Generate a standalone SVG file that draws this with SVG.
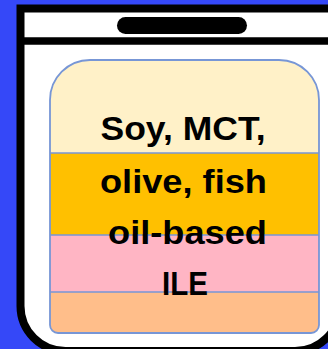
<svg xmlns="http://www.w3.org/2000/svg" width="328" height="349" viewBox="0 0 328 349">
<style>
.bag{fill:#ffffff;stroke:#000000;stroke-width:8}
.band{stroke:#7796d6;stroke-width:1.5}
.lbl{font-family:"Liberation Sans","Open Sans",sans-serif;font-weight:bold;font-size:33px;fill:#000000;text-anchor:middle}
</style>
<rect x="0" y="0" width="328" height="349" fill="#3548f8"/>
<g id="bag">
<path class="bag" d="M20.5 8.5 H340 V306 A45 45 0 0 1 295 351 H65.5 A45 45 0 0 1 20.5 306 Z"/>
<line x1="20.5" y1="41" x2="340" y2="41" stroke="#000" stroke-width="7.5"/>
<rect x="117" y="17" width="130" height="17" rx="8.5" fill="#000"/>
</g>
<g id="container">
<clipPath id="c"><path d="M90 60 H279 A40 40 0 0 1 319 100 V325 A8 8 0 0 1 311 333 H58 A8 8 0 0 1 50 325 V100 A40 40 0 0 1 90 60 Z"/></clipPath>
<g clip-path="url(#c)">
<rect x="50" y="60" width="269" height="93" fill="#fff1c8"/>
<rect x="50" y="153" width="269" height="82" fill="#ffc000"/>
<rect x="50" y="235" width="269" height="57" fill="#ffb5c4"/>
<rect x="50" y="292" width="269" height="41" fill="#ffbe8a"/>
</g>
<line class="band" x1="50" y1="153" x2="319" y2="153"/>
<line class="band" x1="50" y1="235" x2="319" y2="235"/>
<line class="band" x1="50" y1="292" x2="319" y2="292"/>
<path d="M90 60 H279 A40 40 0 0 1 319 100 V325 A8 8 0 0 1 311 333 H58 A8 8 0 0 1 50 325 V100 A40 40 0 0 1 90 60 Z" fill="none" stroke="#7796d6" stroke-width="1.8"/>
</g>
<g id="label">
<text class="lbl" x="183" y="140" textLength="165" lengthAdjust="spacingAndGlyphs">Soy, MCT,</text>
<text class="lbl" x="183.5" y="193" textLength="167" lengthAdjust="spacingAndGlyphs">olive, fish</text>
<text class="lbl" x="187.5" y="243.5" textLength="159" lengthAdjust="spacingAndGlyphs">oil-based</text>
<text class="lbl" x="185" y="294.5" textLength="46" lengthAdjust="spacingAndGlyphs">ILE</text>
</g>
</svg>
